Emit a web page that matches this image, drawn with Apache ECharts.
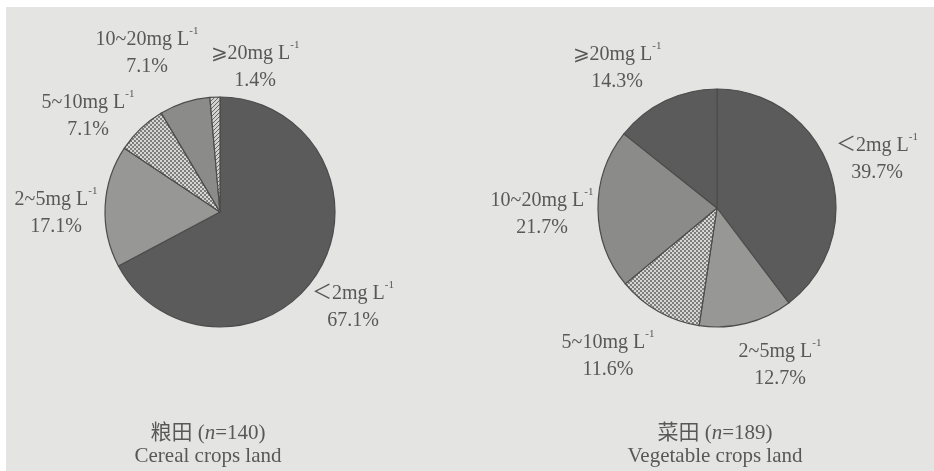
<!DOCTYPE html>
<html>
<head>
<meta charset="utf-8">
<script src="https://cdn.jsdelivr.net/npm/echarts@6/dist/echarts.min.js"></script>
<style>
  html, body { margin: 0; padding: 0; background: #ffffff; }
  #chart { width: 934px; height: 471px; }
</style>
</head>
<body>
<div id="chart"></div>
<script>
// Nitrate concentration classes (mg L-1) and share of sampled sites (%)
const classes = ['＜2', '2~5', '5~10', '10~20', '⩾20'];
const cerealShare = [67.1, 17.1, 7.1, 7.1, 1.4];
const vegetableShare = [39.7, 12.7, 11.6, 21.7, 14.3];
const cerealN = 140;
const vegetableN = 189;

const FONT = '"Liberation Serif", "Times New Roman", "Noto Sans CJK SC", serif';
const TEXT = '#585858';

// small canvas tiles used as fill textures
function tile(size, draw) {
  const c = document.createElement('canvas');
  c.width = size; c.height = size;
  draw(c.getContext('2d'));
  return { image: c, repeat: 'repeat' };
}
const checker = tile(4, g => {
  g.fillStyle = '#7e7e7e'; g.fillRect(0, 0, 4, 4);
  g.fillStyle = '#d6d6d4'; g.fillRect(0, 0, 2, 2); g.fillRect(2, 2, 2, 2);
});
const hatch = tile(4, g => {
  g.fillStyle = '#d2d2d0'; g.fillRect(0, 0, 4, 4);
  g.fillStyle = '#6a6a6a';
  for (let i = 0; i < 4; i++) g.fillRect(i, 3 - i, 1, 1);
});

const DARK = '#5b5b5b';
const GRAY_A = '#979796';
const GRAY_B = '#8b8b8a';

const cerealColors = [DARK, GRAY_A, checker, GRAY_B, hatch];
const vegetableColors = [DARK, GRAY_A, checker, GRAY_B, DARK];

// label anchor points around each pie
const cerealLabelPos = [[353, 307], [56, 213], [88, 116], [147, 53], [255, 67]];
const vegetableLabelPos = [[877, 159], [780, 365], [608, 356], [542, 214], [617, 68]];

function pieData(values, colors) {
  return values.map((v, i) => ({
    name: classes[i],
    value: v,
    itemStyle: { color: colors[i] }
  }));
}

const labelStyle = {
  show: true,
  position: 'outside',
  fontFamily: FONT,
  color: TEXT,
  formatter: p => `{t|${p.name}mg L}{s|-1}\n{t|${p.value.toFixed(1)}%}`,
  rich: {
    t: { fontFamily: FONT, fontSize: 20, lineHeight: 27, color: TEXT },
    s: { fontFamily: FONT, fontSize: 11, color: TEXT, verticalAlign: 'top', lineHeight: 14 }
  }
};

function pieSeries(values, colors, center, radius, pos) {
  return {
    type: 'pie',
    center: center,
    radius: radius,
    startAngle: 90,
    clockwise: true,
    avoidLabelOverlap: false,
    animation: false,
    silent: true,
    data: pieData(values, colors),
    itemStyle: { borderColor: '#4c4c4c', borderWidth: 1.2 },
    label: labelStyle,
    labelLine: { show: false },
    labelLayout: params => ({
      x: pos[params.dataIndex][0],
      y: pos[params.dataIndex][1],
      align: 'center',
      verticalAlign: 'middle'
    })
  };
}

function caption(x, zh, n, en) {
  return {
    left: x,
    top: 417,
    textAlign: 'center',
    text: `${zh} ({i|n}=${n})\n${en}`,
    textStyle: {
      fontFamily: FONT, fontSize: 21, fontWeight: 'normal', color: TEXT, lineHeight: 23,
      rich: { i: { fontFamily: FONT, fontSize: 21, fontStyle: 'italic', color: TEXT } }
    }
  };
}

const chart = echarts.init(document.getElementById('chart'), null, { renderer: 'canvas' });
chart.setOption({
  backgroundColor: '#ffffff',
  animation: false,
  graphic: [{
    type: 'rect', z: -10, silent: true,
    shape: { x: 6, y: 7, width: 928, height: 464 },
    style: { fill: '#e4e4e2' }
  }],
  title: [
    caption(203, '粮田', cerealN, 'Cereal crops land'),
    caption(710, '菜田', vegetableN, 'Vegetable crops land')
  ],
  series: [
    pieSeries(cerealShare, cerealColors, [220, 212], 115, cerealLabelPos),
    pieSeries(vegetableShare, vegetableColors, [717, 208], 119, vegetableLabelPos)
  ]
});
</script>
</body>
</html>
